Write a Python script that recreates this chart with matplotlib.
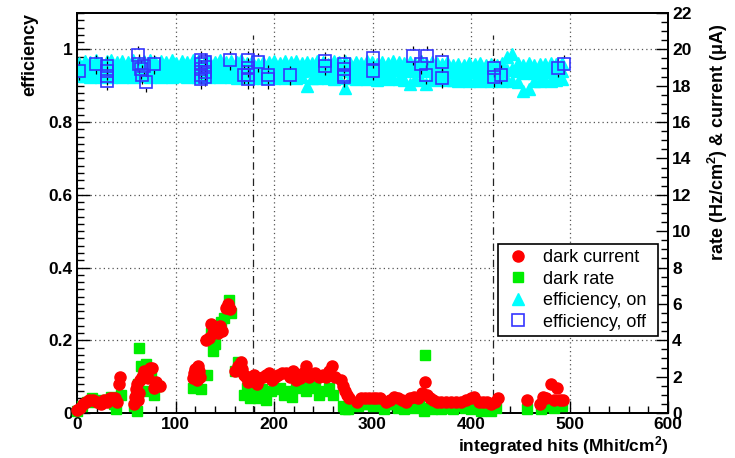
import matplotlib
matplotlib.use("Agg")
import matplotlib.pyplot as plt
from matplotlib.ticker import MultipleLocator
from matplotlib.lines import Line2D

plt.rcParams['font.family'] = ['Liberation Sans', 'DejaVu Sans']
plt.rcParams['mathtext.fontset'] = 'custom'
plt.rcParams['mathtext.rm'] = 'Liberation Sans:bold'
plt.rcParams['mathtext.bf'] = 'Liberation Sans:bold'
plt.rcParams['mathtext.default'] = 'bf'

# ---------------- data ----------------
# dark current (uA) vs integrated hits
cur_x = [0, 3, 6, 9, 12, 16, 20, 24, 27, 30, 33, 36, 39, 41, 43, 44,
         58, 59, 60, 61, 62, 63, 64, 66, 68, 70, 72, 74, 76, 78, 80, 84,
         118, 119, 120, 121, 122, 123, 124, 125,
         131, 134, 136, 138, 140, 143, 145, 147, 151, 153, 155,
         160, 163, 166, 168, 170, 172, 174, 176, 178, 180, 183, 186, 189, 192, 195, 198,
         201, 204, 208, 212, 216, 219, 222, 226, 229, 232, 236, 242, 246, 250, 253, 256,
         259, 262,
         268, 270, 272, 274, 276,
         284, 288, 292, 296, 300, 304, 308, 314, 318, 322, 326, 330, 334, 338, 342, 346,
         350, 353, 355, 358, 361, 365, 370, 375, 380, 385, 390, 395, 400, 403, 408, 412,
         416, 420, 424, 427,
         457, 470, 473, 476, 481, 484, 487, 490, 493]
cur_y = [0.15, 0.3, 0.5, 0.6, 0.7, 0.7, 0.6, 0.5, 0.7, 0.6, 0.8, 0.8, 0.8, 0.6, 1.6, 2.0,
         0.5, 0.9, 1.3, 1.6, 0.7, 1.1, 1.8, 2.0, 2.3, 2.2, 1.9, 2.5, 2.5, 1.4, 1.7, 1.5,
         1.9, 2.2, 2.4, 2.1, 1.8, 2.6, 2.3, 2.0,
         4.0, 4.1, 4.9, 4.4, 4.6, 4.4, 4.8, 4.5, 5.8, 6.0, 5.7,
         2.3, 2.6, 2.8, 2.4, 2.1, 2.0, 1.7, 2.0, 1.8, 2.1, 1.6, 1.9, 2.0, 2.1, 2.2, 1.8,
         2.0, 2.1, 2.2, 2.2, 2.0, 2.3, 1.8, 1.9, 2.2, 2.6, 2.0, 2.2, 2.0, 2.1, 2.0, 2.3,
         2.6, 2.0,
         1.8, 1.5, 1.2, 1.0, 0.8,
         0.6, 0.8, 0.8, 0.8, 0.8, 0.8, 0.8, 0.6, 0.7, 0.9, 0.8, 0.7, 0.6, 0.8, 0.9, 0.8,
         1.1, 1.7, 1.0, 0.8, 0.7, 0.6, 0.6, 0.6, 0.6, 0.6, 0.6, 0.7, 0.8, 0.9, 0.6, 0.6,
         0.6, 0.5, 0.6, 0.8,
         0.7, 0.5, 0.9, 0.8, 1.6, 0.7, 1.4, 0.7, 0.7]

# dark rate (Hz/cm^2) vs integrated hits
rate_x = [0, 5, 10, 15, 20, 25, 30, 35, 38, 40, 45,
          58, 60, 61, 62, 63, 65, 67, 70, 72, 75, 78, 82,
          118, 120, 122, 124, 126, 132, 136, 138, 140, 143, 146, 149, 152, 154, 156,
          160, 163, 166, 170, 173, 176, 180, 184, 188, 192, 197, 202, 206, 210, 214, 218,
          222, 228, 232, 236, 242, 246, 252, 256, 260,
          270, 272, 275, 285, 290, 295, 300, 306, 312, 318, 322, 326, 332, 338, 342, 347,
          352, 353, 356, 360, 365, 370, 376, 382, 388, 394, 400, 405, 410, 416, 420, 425,
          457, 471, 475, 480, 484, 488, 492]
rate_y = [0.1, 0.4, 0.6, 0.8, 0.6, 0.7, 0.7, 0.9, 0.5, 0.2, 1.0,
          0.4, 0.9, 0.1, 1.6, 3.6, 2.6, 2.4, 2.7, 1.2, 2.0, 1.0, 1.5,
          1.4, 1.6, 1.9, 2.1, 1.3, 2.1, 4.4, 3.4, 3.8, 4.6, 5.0, 5.2, 5.7, 6.2, 5.5,
          2.3, 2.8, 2.4, 1.0, 1.4, 0.8, 1.1, 0.8, 1.3, 0.7, 1.2, 1.3, 1.4, 1.0, 1.2, 0.9,
          1.4, 1.8, 1.2, 1.4, 1.6, 1.0, 1.2, 1.4, 1.0,
          0.4, 0.2, 0.2, 0.4, 0.5, 0.5, 0.4, 0.6, 0.2, 0.5, 0.5, 0.3, 0.2, 0.4, 0.3, 0.5,
          0.1, 3.2, 0.3, 0.2, 0.3, 0.2, 0.3, 0.2, 0.4, 0.3, 0.2, 0.4, 0.1, 0.3, 0.1, 0.3,
          0.2, 0.2, 0.4, 0.5, 0.3, 0.6, 0.4]

# efficiency with HV on (dense band: upper, middle and lower rows)
on_x = [2, 8, 13, 19, 24, 30, 35, 41, 46, 52,
        57, 63, 68, 74, 79, 85, 90, 96, 101, 107,
        112, 118, 123, 129, 134, 140, 145, 151, 156, 162,
        167, 173, 178, 184, 189, 195, 200, 206, 211, 217,
        222, 228, 233, 239, 244, 250, 255, 261, 266, 272,
        277, 283, 288, 294, 299, 305, 310, 316, 321, 327,
        332, 338, 343, 349, 354, 360, 365, 371, 376, 382,
        387, 393, 398, 404, 409, 415, 420, 426, 431, 437,
        442, 448, 453, 459, 464, 470, 475, 481, 486, 492]
on_hi = [0.962, 0.968, 0.965, 0.970, 0.963, 0.967, 0.971, 0.964, 0.969, 0.966,
         0.970, 0.965, 0.968, 0.972, 0.964, 0.969, 0.966, 0.971, 0.963, 0.968,
         0.965, 0.970, 0.967, 0.962, 0.969, 0.966, 0.971, 0.964, 0.968, 0.965,
         0.970, 0.963, 0.967, 0.961, 0.966, 0.964, 0.969, 0.962, 0.967, 0.964,
         0.968, 0.962, 0.966, 0.963, 0.969, 0.965, 0.961, 0.967, 0.964, 0.968,
         0.963, 0.966, 0.962, 0.967, 0.965, 0.961, 0.966, 0.963, 0.968, 0.964,
         0.962, 0.966, 0.963, 0.967, 0.962, 0.965, 0.963, 0.960, 0.964, 0.958,
         0.961, 0.957, 0.962, 0.959, 0.963, 0.958, 0.961, 0.957, 0.962, 0.978,
         0.986, 0.963, 0.958, 0.962, 0.957, 0.961, 0.959, 0.962, 0.960, 0.963]
on_mid = [0.944, 0.948, 0.942, 0.950, 0.946, 0.943, 0.949, 0.945, 0.951, 0.944,
          0.947, 0.943, 0.950, 0.946, 0.942, 0.948, 0.945, 0.949, 0.943, 0.947,
          0.944, 0.950, 0.946, 0.942, 0.948, 0.945, 0.951, 0.943, 0.947, 0.944,
          0.948, 0.942, 0.946, 0.940, 0.945, 0.943, 0.947, 0.941, 0.946, 0.943,
          0.945, 0.940, 0.944, 0.942, 0.947, 0.943, 0.939, 0.945, 0.942, 0.946,
          0.941, 0.944, 0.940, 0.945, 0.943, 0.939, 0.944, 0.941, 0.946, 0.942,
          0.940, 0.944, 0.941, 0.945, 0.940, 0.943, 0.941, 0.938, 0.942, 0.937,
          0.939, 0.935, 0.940, 0.937, 0.941, 0.936, 0.939, 0.935, 0.940, 0.942,
          0.945, 0.940, 0.936, 0.940, 0.935, 0.939, 0.937, 0.940, 0.938, 0.941]
on_lo = [0.926, 0.928, 0.924, 0.929, 0.925, 0.927, 0.923, 0.928, 0.925, 0.927,
         0.924, 0.929, 0.926, 0.923, 0.928, 0.925, 0.927, 0.924, 0.928, 0.926,
         0.923, 0.927, 0.925, 0.928, 0.924, 0.926, 0.923, 0.927, 0.925, 0.922,
         0.926, 0.924, 0.921, 0.925, 0.922, 0.924, 0.920, 0.923, 0.921, 0.924,
         0.921, 0.923, 0.900, 0.922, 0.920, 0.923, 0.921, 0.919, 0.922, 0.895,
         0.921, 0.918, 0.922, 0.919, 0.921, 0.917, 0.920, 0.918, 0.921, 0.919,
         0.917, 0.905, 0.919, 0.916, 0.905, 0.918, 0.916, 0.919, 0.915, 0.917,
         0.914, 0.917, 0.913, 0.916, 0.912, 0.915, 0.913, 0.916, 0.912, 0.915,
         0.913, 0.911, 0.886, 0.890, 0.914, 0.912, 0.915, 0.913, 0.916, 0.918]

# efficiency with HV off
off_x = [2, 19, 30, 30, 30, 30, 62, 63, 65, 66, 68, 70, 78,
         126, 126, 126, 126, 126, 130, 130, 130, 130, 155,
         170, 174, 174, 174, 174, 184, 194, 194, 216, 252, 252,
         271, 271, 271, 271, 301, 301, 341, 355, 349, 354, 371, 371,
         423, 423, 430, 488, 494]
off_y = [0.941, 0.959, 0.955, 0.941, 0.927, 0.914, 0.984, 0.960, 0.945, 0.930, 0.955, 0.909, 0.959,
         0.970, 0.960, 0.945, 0.930, 0.918, 0.965, 0.952, 0.938, 0.924, 0.970,
         0.930, 0.970, 0.950, 0.930, 0.918, 0.964, 0.930, 0.918, 0.929, 0.968, 0.955,
         0.960, 0.945, 0.930, 0.923, 0.975, 0.941, 0.982, 0.982, 0.959, 0.930, 0.964, 0.921,
         0.950, 0.923, 0.930, 0.950, 0.959]
off_err = 0.026

vline_x = [179, 422]
vline_top = 1.04

x_ticks = [0, 100, 200, 300, 400, 500, 600]
eff_ticks = [0, 0.2, 0.4, 0.6, 0.8, 1]
eff_ticklabels = ['0', '0.2', '0.4', '0.6', '0.8', '1']
rate_ticks = [0, 2, 4, 6, 8, 10, 12, 14, 16, 18, 20, 22]

# ---------------- figure ----------------
W, H = 735, 458
fig = plt.figure(figsize=(W / 100, H / 100), dpi=100)
L, R, B, T = 77, 668, 413, 13
ax = fig.add_axes([L / W, (H - B) / H, (R - L) / W, (B - T) / H])
ax.set_xlim(0, 600)
ax.set_ylim(0, 1.1)

ax.grid(True, which='major', linestyle=(0, (1, 2.5)), color='#555555', linewidth=0.9)
ax.set_axisbelow(True)

for xv in vline_x:
    ax.plot([xv, xv], [0, vline_top], color='#222222', linewidth=0.9,
            linestyle=(0, (6, 3, 1, 3)), zorder=1.5)

ax.plot(on_x, on_hi, linestyle='none', marker='^', ms=9, color='#00ffff', mec='#00ffff', zorder=2)
ax.plot(on_x, on_lo, linestyle='none', marker='^', ms=9, color='#00ffff', mec='#00ffff', zorder=2)
ax.plot(on_x, on_mid, linestyle='none', marker='^', ms=9, color='#00ffff', mec='#00ffff', zorder=2)

# error bar stubs outside the open squares
half = 0.0165
ax.vlines(off_x, [v + half for v in off_y], [v + off_err for v in off_y], color='black', linewidth=0.9, zorder=3)
ax.vlines(off_x, [v - off_err for v in off_y], [v - half for v in off_y], color='black', linewidth=0.9, zorder=3)
ax.plot(off_x, off_y, linestyle='none', marker='s', ms=8.5, mfc='none', mec='#3535ff', mew=1.2, zorder=4)

ax.set_xticks(x_ticks)
ax.set_yticks(eff_ticks)
ax.set_yticklabels(eff_ticklabels)
ax.xaxis.set_minor_locator(MultipleLocator(20))
ax.yaxis.set_minor_locator(MultipleLocator(0.02))
ax.tick_params(axis='both', which='both', direction='in', top=False, right=False)
ax.tick_params(which='major', length=9, width=1.0)
ax.tick_params(which='minor', length=5, width=1.0)
ax.tick_params(axis='x', pad=3)
ax.tick_params(axis='y', pad=3)
for lab in ax.get_xticklabels() + ax.get_yticklabels():
    lab.set_fontsize(12.5)
    lab.set_fontweight('bold')
for sp in ax.spines.values():
    sp.set_linewidth(1.3)

ax2 = ax.twinx()
ax2.set_ylim(0, 22)
ax2.set_yticks(rate_ticks)
ax2.yaxis.set_minor_locator(MultipleLocator(0.5))
ax2.tick_params(axis='y', which='both', direction='in', right=True, pad=3)
ax2.tick_params(which='major', length=9, width=1.0)
ax2.tick_params(which='minor', length=5, width=1.0)
for lab in ax2.get_yticklabels():
    lab.set_fontsize(12.5)
    lab.set_fontweight('bold')
for sp in ax2.spines.values():
    sp.set_linewidth(1.3)

ax2.plot(rate_x, rate_y, linestyle='none', marker='s', ms=7.5, color='#00ee00', mec='#00ee00', zorder=3, clip_on=False)
ax2.plot(cur_x, cur_y, linestyle='none', marker='o', ms=8, color='#ff0000', mec='#ff0000', zorder=4, clip_on=False)

# labels
ax.text(-47 / (R - L), 1.0, 'efficiency', rotation=90, ha='center', va='top',
        transform=ax.transAxes, fontsize=13, fontweight='bold')
ax.text(1 + 50 / (R - L), 0.975, 'rate (Hz/cm$^{2}$) & current (\u03bcA)', rotation=90,
        ha='center', va='top', transform=ax.transAxes, fontsize=13, fontweight='bold')
ax.text(1.0, -33 / (B - T), 'integrated hits (Mhit/cm$^{2}$)', ha='right', va='center',
        transform=ax.transAxes, fontsize=12.5, fontweight='bold')

handles = [
    Line2D([], [], linestyle='none', marker='o', ms=8, color='#ff0000'),
    Line2D([], [], linestyle='none', marker='s', ms=7.5, color='#00ee00'),
    Line2D([], [], linestyle='none', marker='^', ms=9, color='#00ffff'),
    Line2D([], [], linestyle='none', marker='s', ms=8.5, mfc='none', mec='#3535ff', mew=1.2),
]
labels = ['dark current', 'dark rate', 'efficiency, on', 'efficiency, off']
leg = ax2.legend(handles, labels, loc='lower left',
                 bbox_to_anchor=(0.712, 0.1925, 0.271, 0.2225), mode='expand',
                 fontsize=13, frameon=True, fancybox=False, framealpha=1,
                 edgecolor='black', borderpad=0.3, labelspacing=0.25,
                 handletextpad=0.6, handlelength=1.6, borderaxespad=0)
leg.get_frame().set_linewidth(1.2)

fig.savefig('out.png', dpi=100)
